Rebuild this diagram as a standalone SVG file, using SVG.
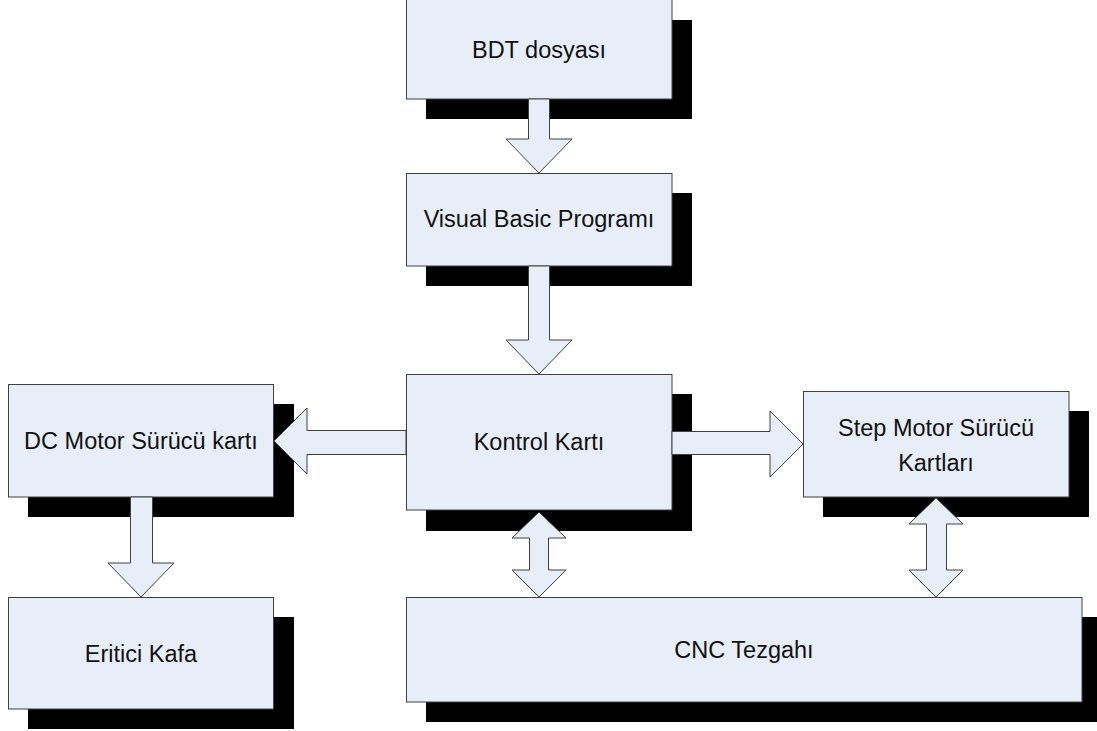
<svg xmlns="http://www.w3.org/2000/svg" width="1097" height="731" viewBox="0 0 1097 731">
<style>
.shadow{fill:#000000}
.box{fill:#E8EEF7;stroke:#404040;stroke-width:1}
.arrow{fill:#E8EEF7;stroke:#404040;stroke-width:1;stroke-linejoin:miter}
.lbl{font-family:"Liberation Sans",Arial,sans-serif;font-size:23.5px;fill:#111111;text-anchor:middle}
</style>
<rect x="0" y="0" width="1097" height="731" fill="#FFFFFF"/>
<g id="node-bdt">
<rect class="shadow" x="426" y="20" width="266" height="99"/>
<rect class="box" x="406.5" y="-1" width="265.5" height="100"/>
<text class="lbl" x="539" y="58">BDT dosyası</text>
</g>
<g id="node-vb">
<rect class="shadow" x="426" y="193" width="266" height="93"/>
<rect class="box" x="406.5" y="173.5" width="265.5" height="92.5"/>
<text class="lbl" x="539" y="227">Visual Basic Programı</text>
</g>
<g id="node-kontrol">
<rect class="shadow" x="426" y="394" width="266" height="137"/>
<rect class="box" x="406.5" y="374.5" width="265.5" height="135.5"/>
<text class="lbl" x="539" y="450">Kontrol Kartı</text>
</g>
<g id="node-dc">
<rect class="shadow" x="28" y="404" width="266" height="113"/>
<rect class="box" x="8.5" y="384.5" width="265" height="112.5"/>
<text class="lbl" x="141" y="449">DC Motor Sürücü kartı</text>
</g>
<g id="node-eritici">
<rect class="shadow" x="28" y="617" width="266" height="112"/>
<rect class="box" x="8.5" y="597.5" width="265" height="111.5"/>
<text class="lbl" x="141" y="662">Eritici Kafa</text>
</g>
<g id="node-step">
<rect class="shadow" x="823" y="411" width="266" height="106"/>
<rect class="box" x="803.5" y="391.5" width="265.5" height="105.5"/>
<text class="lbl" x="936" y="436">Step Motor Sürücü</text>
<text class="lbl" x="936" y="471">Kartları</text>
</g>
<g id="node-cnc">
<rect class="shadow" x="426" y="617" width="676" height="105"/>
<rect class="box" x="406.5" y="597.5" width="675.5" height="104.5"/>
<text class="lbl" x="744" y="658">CNC Tezgahı</text>
</g>
<g id="connectors">
<polygon class="arrow" points="528.5,99 549.5,99 549.5,139 572,139 539,173 506,139 528.5,139"/>
<polygon class="arrow" points="528.5,266 549.5,266 549.5,340 572,340 539,374 506,340 528.5,340"/>
<polygon class="arrow" points="406,430.5 307,430.5 307,408 274,441 307,474 307,454.5 406,454.5"/>
<polygon class="arrow" points="672,431.5 770,431.5 770,411 803,444 770,477 770,454.5 672,454.5"/>
<polygon class="arrow" points="130.5,497 152.5,497 152.5,563 174,563 141,597 108,563 130.5,563"/>
<polygon class="arrow" points="539,512 566,538 548.5,538 548.5,570 566,570 539,597 512,570 529.5,570 529.5,538 512,538"/>
<polygon class="arrow" points="936,498 963,524 946.5,524 946.5,570 963,570 936,597 909,570 926.5,570 926.5,524 909,524"/>
</g>
</svg>
